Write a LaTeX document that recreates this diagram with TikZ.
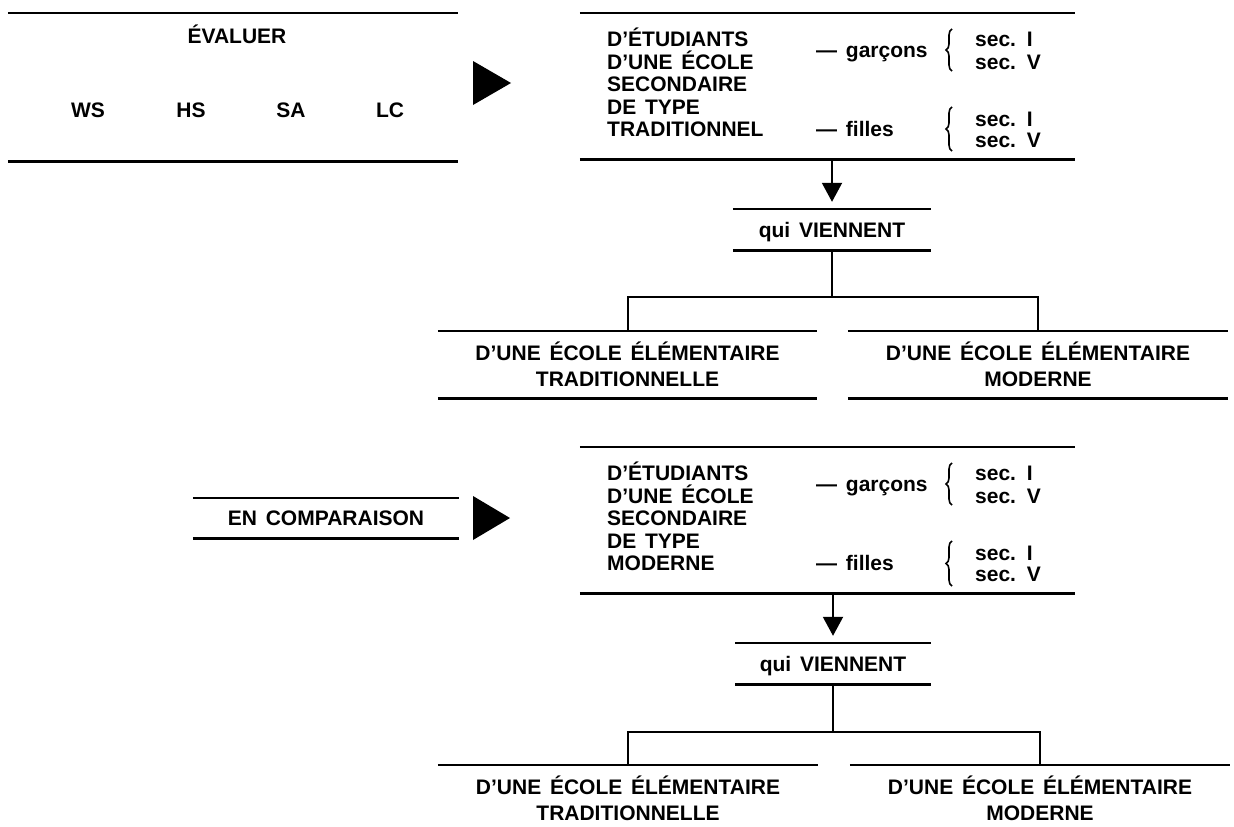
\documentclass[tikz,border=0pt]{standalone}
\usepackage{fontspec}
\setmainfont{Liberation Sans}[WordSpace=1.5]
\usetikzlibrary{arrows.meta,decorations.pathreplacing,calc}
\begin{document}
\begin{tikzpicture}[x=1pt,y=-1pt,
  every node/.style={font=\fontsize{21}{26}\selectfont\bfseries},
  rule/.style={line width=2.6pt},
  conn/.style={line width=2pt},
  ruledbox/.style={inner sep=0pt, align=center,
    append after command={(\tikzlastnode.north west) edge[rule] (\tikzlastnode.north east)
                          (\tikzlastnode.south west) edge[rule] (\tikzlastnode.south east)}},
  topruled/.style={inner sep=0pt, align=center,
    append after command={(\tikzlastnode.north west) edge[rule] (\tikzlastnode.north east)}},
  txt/.style={inner sep=0pt, text height=15pt, text depth=0pt},
  lbl/.style={txt, anchor=west},
  bracket/.style={line width=1.6pt, decorate, decoration={brace, amplitude=6pt}},
  pointer/.style={fill=black},
  down/.style={conn, -{Triangle[length=19pt,width=20pt]}, shorten >=7pt}
]
\useasboundingbox (0,0) rectangle (1234,827);

% ---------- upper part ----------
\node[ruledbox, minimum width=450pt, minimum height=148pt] (ev) at (233,87) {};
\node[txt] (evt) at (237,36) {ÉVALUER};
\node[txt] (ws) at (88,110) {WS};
\node[txt] (hs) at (191,110) {HS};
\node[txt] (sa) at (291,110) {SA};
\node[txt] (lc) at (390,110) {LC};
\fill[pointer] (473,61) -- (511,83) -- (473,105) -- cycle;

\node[ruledbox, minimum width=495pt, minimum height=146pt] (b1) at (827.5,86) {};
\node[lbl] (b1a) at (607,39) {D’ÉTUDIANTS};
\node[lbl] (b1b) at (607,61.5) {D’UNE ÉCOLE};
\node[lbl] (b1c) at (607,84) {SECONDAIRE};
\node[lbl] (b1d) at (607,106.5) {DE TYPE};
\node[lbl] (b1e) at (607,129) {TRADITIONNEL};
\node[lbl] (b1g) at (816,50) {— garçons};
\draw[bracket] (952,71) -- (952,29);
\node[lbl] (b1s1) at (975,39) {sec. I};
\node[lbl] (b1s2) at (975,61.5) {sec. V};
\node[lbl] (b1f) at (816,129) {— filles};
\draw[bracket] (952,151) -- (952,107);
\node[lbl] (b1s3) at (975,119) {sec. I};
\node[lbl] (b1s4) at (975,140) {sec. V};

\node[ruledbox, txt, minimum width=198pt, minimum height=41pt] (qv1) at (832,229.5) {qui VIENNENT};
\draw[down] (b1.south -| qv1.north) -- (qv1.north);

\node[ruledbox, minimum width=379pt, minimum height=67pt] (el1a) at (627.5,364.5)
  {D’UNE ÉCOLE ÉLÉMENTAIRE\\TRADITIONNELLE};
\node[ruledbox, minimum width=380pt, minimum height=67pt] (el1b) at (1038,364.5)
  {D’UNE ÉCOLE ÉLÉMENTAIRE\\MODERNE};
\coordinate (j1) at (832,297);
\draw[conn] (qv1.south) -- (j1);
\draw[conn] (el1a.north) |- (j1) -| (el1b.north);

% ---------- lower part ----------
\node[ruledbox, txt, minimum width=266pt, minimum height=40pt] (en) at (326,518) {EN COMPARAISON};
\fill[pointer] (473,496) -- (510,518) -- (473,540) -- cycle;

\node[ruledbox, minimum width=495pt, minimum height=146pt] (b2) at (827.5,520) {};
\node[lbl] (b2a) at (607,473) {D’ÉTUDIANTS};
\node[lbl] (b2b) at (607,495.5) {D’UNE ÉCOLE};
\node[lbl] (b2c) at (607,518) {SECONDAIRE};
\node[lbl] (b2d) at (607,540.5) {DE TYPE};
\node[lbl] (b2e) at (607,563) {MODERNE};
\node[lbl] (b2g) at (816,484) {— garçons};
\draw[bracket] (952,505) -- (952,463);
\node[lbl] (b2s1) at (975,473) {sec. I};
\node[lbl] (b2s2) at (975,495.5) {sec. V};
\node[lbl] (b2f) at (816,563) {— filles};
\draw[bracket] (952,586) -- (952,541);
\node[lbl] (b2s3) at (975,553) {sec. I};
\node[lbl] (b2s4) at (975,574) {sec. V};

\node[ruledbox, txt, minimum width=195pt, minimum height=41pt] (qv2) at (833,663.5) {qui VIENNENT};
\draw[down] (b2.south -| qv2.north) -- (qv2.north);

\node[topruled, minimum width=380pt, minimum height=67pt] (el2a) at (628,798.5)
  {D’UNE ÉCOLE ÉLÉMENTAIRE\\TRADITIONNELLE};
\node[topruled, minimum width=380pt, minimum height=67pt] (el2b) at (1040,798.5)
  {D’UNE ÉCOLE ÉLÉMENTAIRE\\MODERNE};
\coordinate (j2) at (833,732);
\draw[conn] (qv2.south) -- (j2);
\draw[conn] (el2a.north) |- (j2) -| (el2b.north);
\end{tikzpicture}
\end{document}
